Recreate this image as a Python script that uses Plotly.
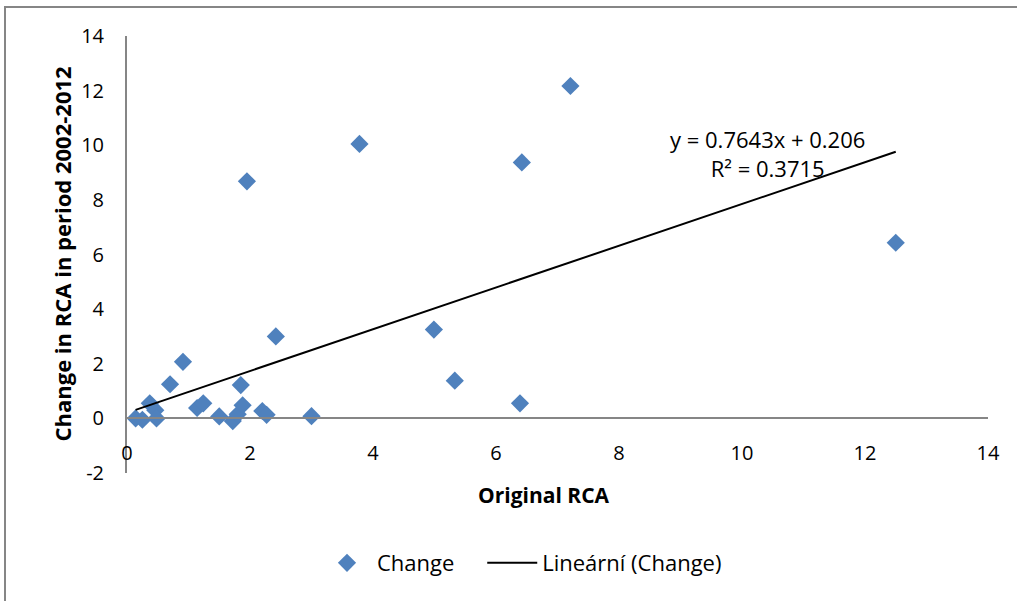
import plotly.graph_objects as go

# Original RCA (x) and change in RCA over 2002-2012 (y)
original_rca = [0.14, 0.25, 0.37, 0.46, 0.48, 0.70, 0.91, 1.14, 1.24, 1.50,
                1.72, 1.80, 1.85, 1.88, 1.95, 2.20, 2.27, 2.42, 3.00, 3.78,
                4.99, 5.33, 6.39, 6.42, 7.21, 12.50]
change_rca = [0.00, -0.05, 0.55, 0.30, 0.00, 1.25, 2.07, 0.38, 0.55, 0.07,
              -0.10, 0.15, 1.22, 0.48, 8.68, 0.27, 0.13, 3.00, 0.08, 10.05,
              3.25, 1.38, 0.55, 9.37, 12.17, 6.43]

# Linear trend reported for the series
slope = 0.7643
intercept = 0.206
r_squared = 0.3715

x_ticks = [0, 2, 4, 6, 8, 10, 12, 14]
y_ticks = [-2, 0, 2, 4, 6, 8, 10, 12, 14]
y_tick_text = ["-2", "0", "2", "4", "6", "8", "10", "12", "14"]

FONT = "Open Sans"
GRAY = "#868686"
BLUE = "#4F81BD"
NBSP = "\u00a0"

trend_x = [min(original_rca), max(original_rca)]
trend_y = [slope * v + intercept for v in trend_x]

fig = go.Figure()
fig.add_trace(go.Scatter(
    x=original_rca, y=change_rca, mode="markers", name="Change" + NBSP * 4,
    marker=dict(symbol="diamond", size=14, color=BLUE, line=dict(width=0)),
))
fig.add_trace(go.Scatter(
    x=trend_x, y=trend_y, mode="lines", name="Lineární (Change)",
    line=dict(color="black", width=2),
))

fig.add_annotation(
    x=10.42, y=9.7, xref="x", yref="y", showarrow=False,
    text=f"y = {slope}x + {intercept}<br>R² = {r_squared}",
    font=dict(family=FONT, size=22, color="black"), align="center",
)
fig.add_annotation(
    x=(544 - 127) / 861, y=(473 - 495) / 437, xref="paper", yref="paper",
    xanchor="center", yanchor="middle", showarrow=False,
    text="<b>Original RCA</b>", font=dict(family=FONT, size=21, color="black"),
)
fig.add_annotation(
    x=(61 - 127) / 861, y=0.5, xref="paper", yref="paper",
    xanchor="center", yanchor="middle", showarrow=False, textangle=-90,
    text="<b>Change in RCA in period 2002-2012</b>",
    font=dict(family=FONT, size=22, color="black"),
)

# chart frame
fig.add_shape(type="rect", xref="paper", yref="paper",
              x0=-0.1417, x1=1.2, y0=-0.4, y1=1.0664,
              line=dict(color=GRAY, width=2), fillcolor="rgba(0,0,0,0)", layer="below")

fig.update_layout(
    width=1017, height=601,
    margin=dict(l=127, r=29, t=36, b=128),
    paper_bgcolor="white", plot_bgcolor="white",
    font=dict(family=FONT, size=20, color="black"),
    showlegend=True,
    legend=dict(orientation="h", x=(522 - 127) / 861, xanchor="center",
                y=-0.206, yanchor="middle",
                font=dict(family=FONT, size=22), itemwidth=50),
    xaxis=dict(range=[0, 14], tickvals=x_ticks, showgrid=False, zeroline=False,
               showline=True, linecolor=GRAY, linewidth=2,
               anchor="free", position=0.125, ticks="", ticklabelstandoff=17),
    yaxis=dict(range=[-2, 14], tickvals=y_ticks, ticktext=y_tick_text,
               showgrid=False, zeroline=False,
               showline=True, linecolor=GRAY, linewidth=2, ticks="",
               ticklabelstandoff=17),
)

fig.write_html("out.html")
